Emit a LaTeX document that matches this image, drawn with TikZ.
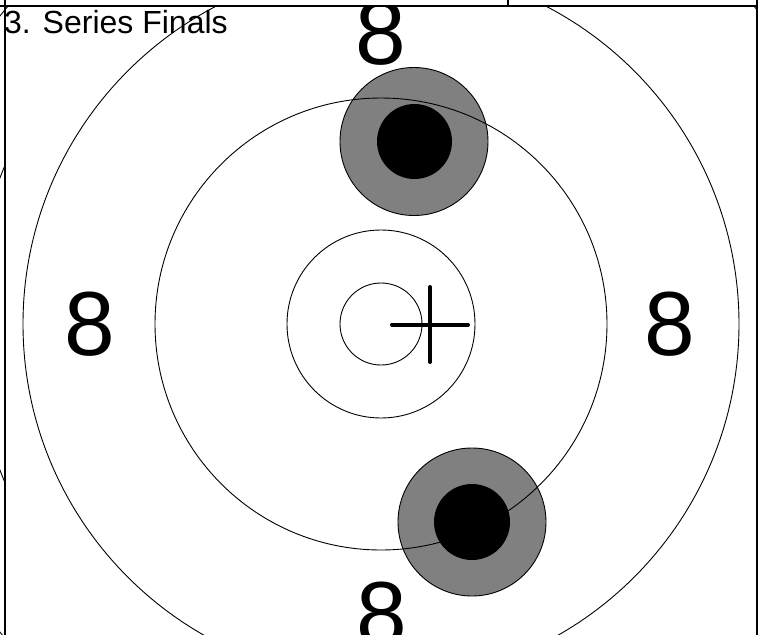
\documentclass[tikz,border=0pt]{standalone}
\usepackage{fontspec}
\setmainfont{Liberation Sans}
\definecolor{shotgray}{HTML}{808080}
\begin{document}
\begin{tikzpicture}[x=1pt,y=-1pt,
  ring/.style={draw=black,line width=0.9pt},
  shotouter/.style={fill=shotgray,draw=black,line width=0.9pt},
  shotinner/.style={fill=black},
  score/.style={inner sep=0pt,font=\fontsize{91}{91}\selectfont},
  frameline/.style={draw=black,line width=2pt},
  crossline/.style={draw=black,line width=4pt,line cap=round}]
\useasboundingbox (0,0) rectangle (764,635);
\coordinate (ctr) at (381,324);
\begin{scope}
\clip (0,6) rectangle (757,635);
\filldraw[shotouter] (414,141.5) circle (74);
\fill[shotinner] (414.5,141.5) circle (37.5);
\filldraw[shotouter] (472,522) circle (74);
\fill[shotinner] (472,522) circle (38);
\foreach \r in {41,94,226,358,490} \draw[ring] (ctr) circle (\r);
\node[score] (s8top) at (381,33) {8};
\node[score] (s8left) at (90,324.5) {8};
\node[score] (s8right) at (670,324.5) {8};
\node[score] (s8bottom) at (382,614.5) {8};
\end{scope}
\begin{scope}
\clip (0,6) rectangle (5,635);
\draw[ring] (ctr) circle (408);
\end{scope}
\coordinate (crossW) at (392,324.5);
\coordinate (crossE) at (468,324.5);
\coordinate (crossN) at (430,287);
\coordinate (crossS) at (430,362);
\draw[crossline] (crossW) -- (crossE);
\draw[crossline] (crossN) -- (crossS);
\node[inner sep=0pt,anchor=base west,font=\fontsize{32}{32}\selectfont] (title) at (4,33) {3. Series Finals};
\coordinate (tl) at (0,6);
\coordinate (tr) at (757,6);
\draw[frameline] (tl) -- (tr);
\draw[frameline] (5,0) -- (5,635);
\draw[frameline] (757,0) -- (757,635);
\draw[frameline] (508,0) -- (508,6);
\end{tikzpicture}
\end{document}
